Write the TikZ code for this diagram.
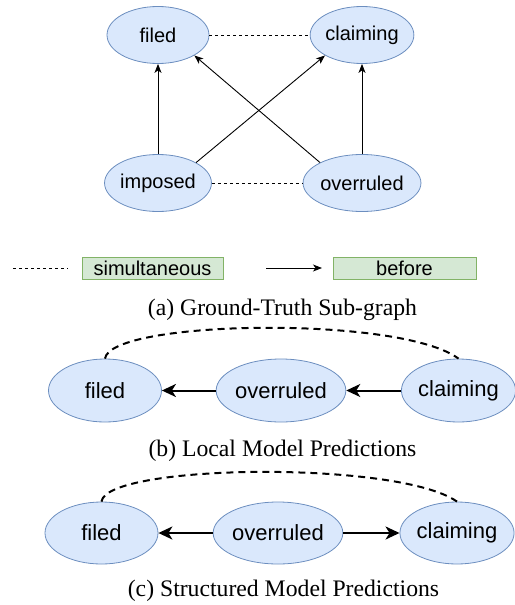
\documentclass[tikz,border=0pt]{standalone}
\usepackage{fontspec}
\setmainfont{Liberation Serif}
\setsansfont{Liberation Sans}
\usetikzlibrary{arrows.meta,shapes.geometric}
\definecolor{nodefill}{HTML}{DAE8FC}
\definecolor{nodeline}{HTML}{6C8EBF}
\definecolor{legfill}{HTML}{D5E8D4}
\definecolor{legline}{HTML}{82B366}
\tikzset{
  ev/.style={ellipse, draw=nodeline, fill=nodefill, line width=0.8pt, inner sep=0pt,
    minimum width=102pt, minimum height=57pt, font=\sffamily\fontsize{20}{22}\selectfont},
  evb/.style={ev, minimum width=113pt, minimum height=63pt, font=\sffamily\fontsize{22}{24}\selectfont},
  legbox/.style={rectangle, draw=legline, fill=legfill, line width=0.8pt, inner sep=0pt,
    minimum height=22pt, font=\sffamily\fontsize{20}{22}\selectfont},
  thinarrow/.style={line width=0.9pt, -{Stealth[length=9pt,width=7pt,inset=2.5pt]}},
  thickarrow/.style={line width=2pt, -{Stealth[length=14pt,width=13pt,inset=4pt]}},
  simline/.style={line width=0.8pt, dash pattern=on 3pt off 3pt},
  simarc/.style={line width=2pt, dash pattern=on 7pt off 5pt},
  captext/.style={font=\rmfamily\fontsize{23.7}{26}\selectfont, inner sep=0pt}
}
\begin{document}
\begin{tikzpicture}[x=1pt,y=-1pt]
\useasboundingbox (0,0) rectangle (514,605);
% (a)
\node[ev] (filed) at (158,35) {filed};
\node[ev] (claiming) at (362,35) {claiming};
\node[ev] (imposed) at (158,183) {imposed};
\node[ev] (overruled) at (362,183) {overruled};
\draw[simline] (filed) -- (claiming);
\draw[simline] (imposed) -- (overruled);
\draw[thinarrow] (imposed.north) -- (filed.south);
\draw[thinarrow] (overruled.north) -- (claiming.south);
\draw[thinarrow] (imposed.north east) -- (claiming.south west);
\draw[thinarrow] (overruled.north west) -- (filed.south east);
% legend
\coordinate (l1) at (13,268);
\coordinate (l2) at (68,268);
\draw[simline] (l1) -- (l2);
\node[legbox, minimum width=141pt] (sim) at (152.5,268) {simultaneous};
\coordinate (a1) at (266,268);
\coordinate (a2) at (322,268);
\draw[thinarrow] (a1) -- (a2);
\node[legbox, minimum width=143pt] (bef) at (404.5,268) {before};
\node[captext] (capa) at (282.5,310) {(a) Ground-Truth Sub-graph};
% (b)
\node[evb] (bfiled) at (105,390.5) {filed};
\node[evb, minimum width=116pt] (bover) at (281,390.5) {overruled};
\node[evb, minimum width=111pt] (bclaim) at (458.5,390.5) {claiming};
\draw[thickarrow] (bover) -- (bfiled);
\draw[thickarrow] (bclaim) -- (bover);
\draw[simarc] (bfiled.north) .. controls (110,320) and (400,315) .. (bclaim.north);
\node[captext] (capb) at (282.5,451) {(b) Local Model Predictions};
% (c)
\node[evb, minimum height=62pt] (cfiled) at (101.5,533) {filed};
\node[evb, minimum height=62pt, minimum width=116pt] (cover) at (278,533) {overruled};
\node[evb, minimum height=62pt, minimum width=112pt] (cclaim) at (457,533) {claiming};
\draw[thickarrow] (cover) -- (cfiled);
\draw[thickarrow] (cover) -- (cclaim);
\draw[simarc] (cfiled.north) .. controls (106,464) and (398,460) .. (cclaim.north);
\node[captext] (capc) at (283.5,591) {(c) Structured Model Predictions};
\end{tikzpicture}
\end{document}
